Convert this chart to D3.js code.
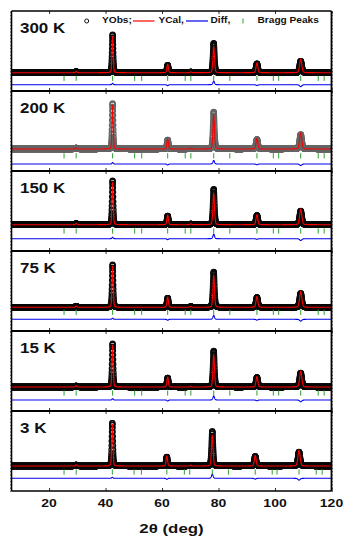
<!DOCTYPE html>
<html>
<head>
<meta charset="utf-8">
<script src="https://cdn.jsdelivr.net/npm/d3@7"></script>
<style>
  body { margin: 0; background: #fff; }
  svg { display: block; }
  text { font-family: "Liberation Sans", Arial, sans-serif; font-weight: bold; fill: #111; }
</style>
</head>
<body>
<svg id="chart" width="345" height="539"></svg>
<script>
// ---- Rietveld refinement data, one panel per temperature ----
const temperatures = ["300 K", "200 K", "150 K", "75 K", "15 K", "3 K"];

// main reflections (2θ, deg) per temperature
const peakPos = [
  [42.5, 62.0, 78.3, 93.6, 109.1],
  [42.5, 62.0, 78.3, 93.6, 109.1],
  [42.5, 62.0, 78.3, 93.6, 109.1],
  [42.5, 62.0, 78.3, 93.6, 109.1],
  [42.5, 62.0, 78.3, 93.6, 109.1],
  [42.4, 61.7, 77.8, 93.0, 108.5]
];
// peak widths (FWHM, deg) for the five reflections
const peakFwhm = [0.5, 0.6, 0.65, 0.75, 0.9];

// observed and calculated peak intensities (a.u.)
const obsHeight = [
  [1900, 375, 1475, 450, 575],
  [2275, 450, 1850, 485, 725],
  [2200, 435, 1775, 470, 685],
  [2130, 465, 1765, 500, 700],
  [2165, 450, 1800, 485, 700],
  [2150, 450, 1735, 485, 700]
];
const calHeight = [
  [1825, 425, 1300, 490, 675],
  [2200, 500, 1675, 525, 800],
  [2125, 485, 1550, 500, 775],
  [2075, 515, 1575, 540, 790],
  [2100, 500, 1600, 525, 790],
  [2100, 500, 1525, 525, 790]
];
// weak reflections
const minorPos = [29.6, 70.2];
const minorHeight = [60, 40];

// background level, offset of the difference curve and of the Bragg marker row
const background = [315, 500, 715, 585, 600, 650];
const diffOffset = [-285, -250, 15, -15, -50, 35];
const braggLevel = [35, 160, 400, 335, 300, 350];

// Bragg reflection positions (2θ, deg)
const braggPos = [
  [25.3, 29.6, 42.5, 50.3, 52.8, 62.0, 68.2, 70.2, 78.3, 84.0, 93.6, 99.4, 101.3, 109.1, 115.3, 117.4],
  [25.3, 29.6, 42.5, 50.3, 52.8, 62.0, 68.2, 70.2, 78.3, 84.0, 93.6, 99.4, 101.3, 109.1, 115.3, 117.4],
  [25.3, 29.6, 42.5, 50.3, 52.8, 62.0, 68.2, 70.2, 78.3, 84.0, 93.6, 99.4, 101.3, 109.1, 115.3, 117.4],
  [25.3, 29.6, 42.5, 50.3, 52.8, 62.0, 68.2, 70.2, 78.3, 84.0, 93.6, 99.4, 101.3, 109.1, 115.3, 117.4],
  [25.3, 29.6, 42.5, 50.3, 52.8, 62.0, 68.2, 70.2, 78.3, 84.0, 93.6, 99.4, 101.3, 109.1, 115.3, 117.4],
  [25.3, 29.6, 42.4, 50.1, 52.7, 61.7, 67.9, 69.8, 77.8, 83.5, 93.0, 99.0, 100.7, 108.5, 114.6, 116.7]
];

const xTicks = [20, 40, 60, 80, 100, 120];
const twoThetaRange = [6.7, 120];
const intensityRange = [-600, 3400];
const scanStep = 0.04;

// ---- layout ----
const svg = d3.select("#chart");
const left = 11.5, right = 331.5, top0 = 11, panelH = 80;

const x = d3.scaleLinear().domain(twoThetaRange).range([left, right]);

// pseudo-Voigt line shape with unit height
function pv(dx, fwhm) {
  const u = (dx / fwhm) * (dx / fwhm);
  const g = Math.exp(-4 * Math.LN2 * u);
  const l = 1 / (1 + 4 * u);
  return 0.25 * l + 0.75 * g;
}
function profile(tt, i, heights) {
  let s = background[i];
  peakPos[i].forEach((p, k) => { s += heights[i][k] * pv(tt - p, peakFwhm[k]); });
  minorPos.forEach((p, k) => { s += minorHeight[k] * pv(tt - p, 0.6); });
  return s;
}

const scan = d3.range(twoThetaRange[0], twoThetaRange[1] + 1e-9, scanStep);

svg.append("defs").append("clipPath").attr("id", "plotClip")
  .append("rect").attr("x", left).attr("y", top0).attr("width", right - left).attr("height", panelH * 6);

temperatures.forEach((label, i) => {
  const pTop = top0 + i * panelH;
  const y = d3.scaleLinear().domain(intensityRange).range([pTop + panelH, pTop]);
  const g = svg.append("g").attr("clip-path", "url(#plotClip)");

  const pts = scan.map(t => {
    const o = profile(t, i, obsHeight);
    const c = profile(t, i, calHeight);
    return { t, o, c, d: o - c + diffOffset[i] };
  });

  // observed points
  g.append("g")
    .attr("fill", "none")
    .attr("stroke", i === 1 ? "#666" : "#0a0a0a")
    .attr("stroke-width", 1.3)
    .selectAll("circle").data(pts).join("circle")
    .attr("cx", d => x(d.t)).attr("cy", d => y(d.o)).attr("r", 2.5);

  // calculated profile
  g.append("path").datum(pts)
    .attr("fill", "none").attr("stroke", "#ff0000").attr("stroke-width", 1.1)
    .attr("d", d3.line().x(d => x(d.t)).y(d => y(d.c)));

  // difference curve
  g.append("path").datum(pts)
    .attr("fill", "none").attr("stroke", "#0000ee").attr("stroke-width", 1.1)
    .attr("d", d3.line().x(d => x(d.t)).y(d => y(d.d)));

  // Bragg markers
  g.append("g").selectAll("line").data(braggPos[i]).join("line")
    .attr("x1", d => x(d)).attr("x2", d => x(d))
    .attr("y1", y(braggLevel[i]) - 2.6).attr("y2", y(braggLevel[i]) + 2.6)
    .attr("stroke", "#2e9e2e").attr("stroke-width", 1);

  // inner ticks on top and bottom edges of the panel
  svg.append("g").attr("transform", `translate(0,${pTop + panelH})`)
    .call(d3.axisBottom(x).tickValues(xTicks).tickSizeInner(-3).tickSizeOuter(0).tickFormat(""))
    .call(a => a.select(".domain").remove())
    .selectAll("line").attr("stroke", "#333");
  svg.append("g").attr("transform", `translate(0,${pTop})`)
    .call(d3.axisTop(x).tickValues(xTicks).tickSizeInner(-3).tickSizeOuter(0).tickFormat(""))
    .call(a => a.select(".domain").remove())
    .selectAll("line").attr("stroke", "#333");

  // fine ticks along the side edges
  const sideTicks = d3.range(intensityRange[0], intensityRange[1] + 1, 165);
  svg.append("g").attr("transform", `translate(${left},0)`)
    .call(d3.axisLeft(y).tickValues(sideTicks).tickSizeInner(1.5).tickSizeOuter(0).tickFormat(""))
    .call(a => a.select(".domain").remove())
    .selectAll("line").attr("stroke", "#444").attr("stroke-width", 0.8);
  svg.append("g").attr("transform", `translate(${right},0)`)
    .call(d3.axisRight(y).tickValues(sideTicks).tickSizeInner(1.5).tickSizeOuter(0).tickFormat(""))
    .call(a => a.select(".domain").remove())
    .selectAll("line").attr("stroke", "#444").attr("stroke-width", 0.8);

  // temperature label
  svg.append("text")
    .attr("transform", `translate(20,${pTop + 22}) scale(1.17,1)`)
    .attr("font-size", 14.5)
    .text(label);
});

// panel frames
svg.append("g").selectAll("line").data(d3.range(7)).join("line")
  .attr("x1", left).attr("x2", right)
  .attr("y1", d => top0 + d * panelH).attr("y2", d => top0 + d * panelH)
  .attr("stroke", "#000").attr("stroke-width", d => (d === 0 || d === 6) ? 1.6 : 2.2);
svg.append("line").attr("x1", left).attr("x2", left).attr("y1", top0).attr("y2", top0 + 6 * panelH)
  .attr("stroke", "#000").attr("stroke-width", 1.6);
svg.append("line").attr("x1", right).attr("x2", right).attr("y1", top0).attr("y2", top0 + 6 * panelH)
  .attr("stroke", "#000").attr("stroke-width", 1.8);

// x tick labels
const bottom = top0 + 6 * panelH;
svg.append("g").selectAll("text").data(xTicks).join("text")
  .attr("transform", d => `translate(${x(d)},${bottom + 16}) scale(1.33,1)`)
  .attr("text-anchor", "middle").attr("font-size", 10.5)
  .text(d => d);

// axis title
svg.append("text")
  .attr("transform", `translate(${(left + right) / 2},${bottom + 42}) scale(1.35,1)`)
  .attr("text-anchor", "middle").attr("font-size", 12.5)
  .text("2θ (deg)");

// legend
const lg = svg.append("g");
const ly = 21;
lg.append("circle").attr("cx", 86.7).attr("cy", ly).attr("r", 2).attr("fill", "none")
  .attr("stroke", "#111").attr("stroke-width", 1);
lg.append("text").attr("transform", `translate(102,${ly + 2.2}) scale(1.18,1)`).attr("font-size", 8.6).text("YObs;");
lg.append("line").attr("x1", 133).attr("x2", 154.5).attr("y1", ly).attr("y2", ly)
  .attr("stroke", "#ff0000").attr("stroke-width", 1.2);
lg.append("text").attr("transform", `translate(158.5,${ly + 2.2}) scale(1.18,1)`).attr("font-size", 8.6).text("YCal,");
lg.append("line").attr("x1", 186).attr("x2", 208).attr("y1", ly).attr("y2", ly)
  .attr("stroke", "#0000ee").attr("stroke-width", 1.2);
lg.append("text").attr("transform", `translate(210.5,${ly + 2.2}) scale(1.18,1)`).attr("font-size", 8.6).text("Diff,");
lg.append("line").attr("x1", 243).attr("x2", 243).attr("y1", ly - 2.5).attr("y2", ly + 2.5)
  .attr("stroke", "#2e9e2e").attr("stroke-width", 1);
lg.append("text").attr("transform", `translate(257.5,${ly + 2.2}) scale(1.18,1)`).attr("font-size", 8.6).text("Bragg Peaks");
</script>
</body>
</html>
